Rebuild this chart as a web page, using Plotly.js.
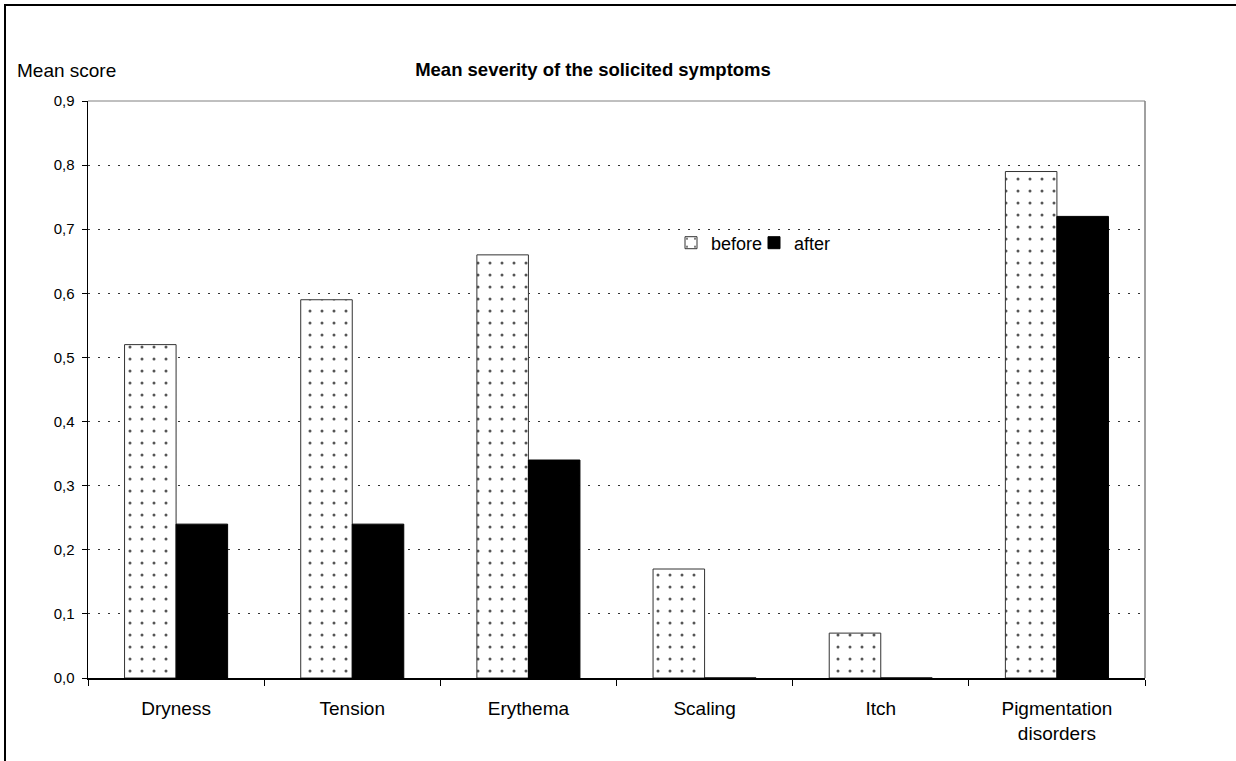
<!DOCTYPE html>
<html>
<head>
<meta charset="utf-8">
<script src="https://cdn.plot.ly/plotly-3.0.1.min.js"></script>
<style>
  html, body { margin: 0; padding: 0; background: #fff; overflow: hidden; }
  #chart { width: 1236px; height: 761px; }
  #frame { position: absolute; left: 4px; top: 4px; width: 3000px; height: 3000px;
           border-left: 2px solid #000; border-top: 2px solid #000; pointer-events: none; }
</style>
</head>
<body>
<div id="chart"></div>
<div id="frame"></div>
<script>
const categories = ["Dryness", "Tension", "Erythema", "Scaling", "Itch", "Pigmentation<br>disorders"];
const beforeValues = [0.52, 0.59, 0.66, 0.17, 0.07, 0.79];
const afterValues = [0.24, 0.24, 0.34, 0, 0, 0.72];
const seriesNames = ["before", "after"];
const yTickValues = [0, 0.1, 0.2, 0.3, 0.4, 0.5, 0.6, 0.7, 0.8, 0.9];
const chartTitle = "Mean severity of the solicited symptoms";
const yLabel = "Mean score";

const FONT = "Liberation Sans, Arial, sans-serif";

const traces = [
  {
    type: "bar",
    name: seriesNames[0],
    x: categories,
    y: beforeValues,
    legend: "legend",
    marker: {
      color: "#ffffff",
      line: { color: "#333333", width: 1 },
      pattern: { shape: ".", size: 12, solidity: 0.05, fgcolor: "#555555", bgcolor: "#ffffff" }
    },
    hoverinfo: "skip"
  },
  {
    type: "bar",
    name: seriesNames[1],
    x: categories,
    y: afterValues,
    legend: "legend2",
    marker: { color: "#000000", line: { color: "#000000", width: 1 } },
    hoverinfo: "skip"
  }
];

const legendCommon = {
  orientation: "h",
  xanchor: "left",
  yanchor: "middle",
  font: { family: FONT, size: 18, color: "#000" },
  bgcolor: "rgba(0,0,0,0)",
  itemwidth: 30
};

const layout = {
  width: 1236,
  height: 761,
  margin: { l: 88, r: 91, t: 101, b: 83 },
  paper_bgcolor: "#ffffff",
  plot_bgcolor: "#ffffff",
  font: { family: FONT, color: "#000000", size: 18 },
  separators: ",.",
  barmode: "group",
  bargap: 0.415,
  bargroupgap: 0,
  showlegend: true,
  legend: Object.assign({}, legendCommon, { x: (671 - 88) / 1057, y: (678 - 243) / 577 }),
  legend2: Object.assign({}, legendCommon, { x: (754 - 88) / 1057, y: (678 - 243) / 577 }),
  title: {
    text: "<b>" + chartTitle + "</b>",
    font: { family: FONT, size: 18.5, color: "#000" },
    x: (593 - 88) / 1057, xref: "paper", xanchor: "center",
    y: 1 - 70 / 761, yref: "container", yanchor: "middle"
  },
  xaxis: {
    type: "category",
    showgrid: false,
    showline: true,
    linecolor: "#000",
    linewidth: 1.5,
    ticks: "outside",
    tickson: "boundaries",
    ticklen: 6,
    tickcolor: "#000",
    tickfont: { family: FONT, size: 19, color: "#000" },
    ticklabelstandoff: 13,
    fixedrange: true,
    zeroline: false
  },
  yaxis: {
    range: [0, 0.9],
    tickvals: yTickValues,
    tickformat: ".1f",
    showgrid: true,
    gridcolor: "#333333",
    gridwidth: 1,
    griddash: "2px,8px",
    showline: true,
    linecolor: "#000",
    linewidth: 1.5,
    ticks: "outside",
    ticklen: 5,
    tickcolor: "#000",
    tickfont: { family: FONT, size: 15, color: "#000" },
    ticklabelstandoff: 4,
    zeroline: false,
    fixedrange: true
  },
  shapes: [
    { type: "line", xref: "paper", yref: "paper", x0: 1, x1: 1, y0: 0, y1: 1,
      line: { color: "#808080", width: 1.5 } },
    { type: "line", xref: "paper", yref: "paper", x0: 0, x1: 1, y0: 1, y1: 1,
      line: { color: "#808080", width: 1 }, layer: "below" }
  ],
  annotations: [
    { text: yLabel, xref: "paper", yref: "paper", x: (15 - 88) / 1057, y: 1 + (101 - 70) / 577,
      xanchor: "left", yanchor: "middle", showarrow: false,
      font: { family: FONT, size: 19, color: "#000" } }
  ]
};

Plotly.newPlot("chart", traces, layout, { displayModeBar: false, staticPlot: true });
</script>
</body>
</html>
